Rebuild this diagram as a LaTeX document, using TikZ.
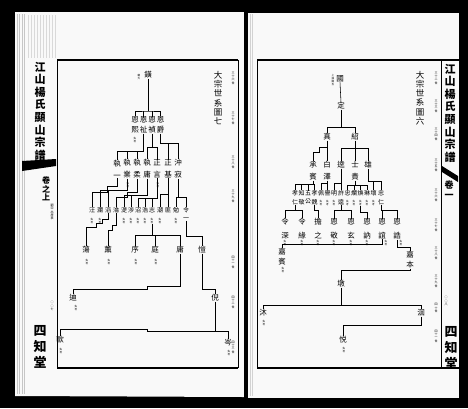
\documentclass[tikz,border=0pt]{standalone}
\usepackage{fontspec}
\setmainfont{Noto Sans CJK TC}
\begin{document}
\begin{tikzpicture}[x=1pt,y=-1pt,
  nm/.style={font=\fontsize{7.5}{10}\selectfont, inner sep=0pt, align=center},
  nmb/.style={font=\fontsize{7.5}{12}\selectfont, inner sep=0pt, align=center},
  nmc/.style={font=\fontsize{7.5}{14}\selectfont, inner sep=0pt, align=center},
  nms/.style={font=\fontsize{6}{8.5}\selectfont, inner sep=0pt, align=center},
  ann/.style={font=\fontsize{2.6}{2.9}\selectfont, inner sep=0pt, align=center},
  gen/.style={font=\fontsize{3}{3.3}\selectfont, inner sep=0pt, align=center},
  ttl/.style={font=\fontsize{8.5}{9.2}\selectfont, inner sep=0pt, align=center},
  spn/.style={font=\bfseries\fontsize{11}{12.6}\selectfont, inner sep=0pt, align=center},
  spb/.style={font=\bfseries\fontsize{13}{16}\selectfont, inner sep=0pt, align=center},
  lk/.style={draw, line width=0.55pt},
  pg/.style={fill=gray!5}]
\useasboundingbox (0,0) rectangle (468,408);
\fill[black] (0,0) rectangle (468,408);
% pages
\fill[pg] (15,12) -- (244,12) -- (244,397) -- (15,396) -- cycle;
\fill[pg] (248,13) -- (459,13) -- (459,398) -- (248,398) -- cycle;
% page edge streaks
\foreach \xx in {17,19.5,22,24.5} \draw[gray!45, line width=0.5pt] (\xx,14) -- (\xx,394);
\foreach \xx in {28,31,34,37,40,43,46,49,52,55} \draw[gray!30, line width=0.4pt] (\xx,15) -- (\xx,58);
\foreach \xx in {250,252.5} \draw[gray!35, line width=0.4pt] (\xx,14) -- (\xx,396);
% spine
\fill[black] (244,8) rectangle (248,400);
% frames left
\draw[line width=1.6pt] (57,60) -- (238,60);
\draw[line width=0.8pt] (57,60) -- (57,368);
\draw[line width=1.4pt] (57,368) -- (238,368);
\draw[line width=0.6pt] (238,60) -- (238,368);
% frames right
\draw[line width=1.6pt] (257,60) -- (459,60);
\draw[line width=0.8pt] (257,60) -- (257,368);
\draw[line width=1.4pt] (257,368) -- (459,368);
\draw[line width=0.6pt] (441,60) -- (441,368);

% ---------- margin columns ----------
\node[spn] (spL) at (40,111) {江\\山\\楊\\氏\\顯\\山\\宗\\譜};
\fill[black] (22,161) -- (56,159) -- (56,166) -- (22,171) -- cycle;
\node[font=\bfseries\fontsize{8}{8.5}\selectfont, inner sep=0pt, align=center] (volL) at (46,189) {卷\\之\\上};
\node[gen] (subL) at (52,212) {嗣\\宗\\出\\居\\表};
\node[gen] (pgL) at (52,306) {○\\○\\七};
\node[spb] (hallL) at (40,347) {四\\知\\堂};

\node[spn] (spR) at (450,113) {江\\山\\楊\\氏\\顯\\山\\宗\\譜};
\fill[black] (442,166) -- (458,176) -- (458,182) -- (442,172) -- cycle;
\node[font=\bfseries\fontsize{9}{10}\selectfont, inner sep=0pt, align=center] (volR) at (449,190) {卷\\一};
\node[gen] (pgR) at (446,301) {○\\○\\八};
\node[spb] (hallR) at (451,348) {四\\知\\堂};

% ---------- titles and generations ----------
\node[ttl] (tL) at (218,98) {大\\宗\\世\\系\\圖\\七};
\node[ttl] (tR) at (420,98) {大\\宗\\世\\系\\圖\\六};
\foreach \yy/\tt in {78/三\\十\\六\\世, 118/三\\十\\七\\世, 162/三\\十\\八\\世, 196/三\\十\\九\\世, 262/四\\十\\一\\世, 302/四\\十\\二\\世, 347/四\\十\\三\\世}
  \node[gen] at (233,\yy) {\tt};
\foreach \yy/\tt in {78/三\\十\\二\\世, 106/三\\十\\三\\世, 134/三\\十\\四\\世, 165/三\\十\\五\\世, 195/三\\十\\六\\世, 225/三\\十\\七\\世, 253/三\\十\\八\\世, 281/三\\十\\九\\世, 308/四\\十\\世, 336/四\\十\\一\\世}
  \node[gen] at (436,\yy) {\tt};

% ================= LEFT PAGE TREE =================
\node[nm] (huang) at (148,75) {鐄};
\node[ann] (ahuang) at (139,77) {繼\\大};
\node[nm] (e1) at (135,125) {恩\\熙};
\node[nm] (e2) at (143.5,125) {恩\\祉};
\node[nm] (e3) at (152,125) {恩\\禎};
\node[nm] (e4) at (160.5,125) {恩\\爵};
\node[ann] (ae1) at (135,140) {失\\考};
\coordinate (bL) at (148,111);
\draw[lk] (huang.south) -- (bL);
\draw[lk] (e1.north) |- (bL) -| (e4.north);
\draw[lk] (e2.north) -- (e2.north |- bL);
\draw[lk] (e3.north) -- (e3.north |- bL);

\node[nmb] (z1) at (117,169) {執\\一};
\node[nmb] (z2) at (127,169) {執\\業};
\node[nmb] (z3) at (137,169) {執\\柔};
\node[nmb] (z4) at (147,169) {執\\庸};
\node[nmb] (z5) at (157,169) {正\\言};
\node[nmb] (z6) at (168,169) {正\\基};
\node[nmb] (z7) at (178,169) {沖\\寂};
\node[ann] (az2) at (128,185) {失\\考};
\node[ann] (az5) at (158,185) {失\\考};
\draw[lk] (e2.south) -- ++(0,18) -| (z1.north);
\draw[lk] (e2.south) ++(0,18) -| (z2.north);
\draw[lk] (e2.south) ++(0,18) -| (z3.north);
\draw[lk] (e3.south) -- ++(0,14) -| (z4.north);
\draw[lk] (e3.south) ++(0,14) -| (z5.north);
\draw[lk] (e4.south) -- ++(0,10) -| (z6.north);
\draw[lk] (e4.south) ++(0,10) -| (z7.north);

\node[nms] (w1) at (92,210) {汪};
\node[nms] (w2) at (100,210) {瀾};
\node[nms] (w3) at (108,210) {滔};
\node[nms] (w4) at (116,210) {淪};
\node[nms] (w5) at (124,210) {湜};
\node[nms] (w6) at (131,210) {涉};
\node[nms] (w7) at (138,210) {沼};
\node[nms] (w8) at (145,210) {浩};
\node[nms] (w9) at (152,210) {志};
\node[nms] (w10) at (160,210) {潮};
\node[nms] (w11) at (168,210) {匪};
\node[nms] (w12) at (176,210) {勉};
\node[nms] (w13) at (186,214) {令\\一};
\foreach \n/\xx in {1/92,2/100,5/124,6/131,7/138,8/145,9/152,10/160,12/176}
  \node[ann] (aw\n) at (\xx,221) {失\\考};
\draw[lk] (z1.south) -- ++(0,8) -| ++(-10,6) -| (w1.north);
\draw[lk] (z2.south) -- ++(0,12) -| (w2.north);
\draw[lk] (z2.south) ++(0,12) -| (w3.north);
\draw[lk] (z3.south) -- ++(0,14) -| ++(-10,5) -| (w4.north);
\draw[lk] (z4.south) -- ++(0,17) -| (w5.north);
\draw[lk] (z4.south) ++(0,17) -| (w6.north);
\draw[lk] (z5.south) -- ++(0,20) -| (w7.north);
\draw[lk] (z5.south) ++(0,20) -| (w8.north);
\draw[lk] (z5.south) ++(0,20) -| (w9.north);
\draw[lk] (z6.south) -- ++(0,16) -| (w10.north);
\draw[lk] (z6.south) ++(0,16) -| (w11.north);
\draw[lk] (z7.south) -- ++(0,19) -| (w12.north);
\draw[lk] (z7.south) ++(0,19) -| (w13.north);

\node[nm] (v1) at (86,250) {蕩};
\node[nm] (v2) at (108,250) {薫};
\node[nm] (v3) at (135,250) {序};
\node[nm] (v4) at (155,250) {庭};
\node[nm] (v5) at (180,250) {庸};
\node[nm] (v6) at (202,250) {愷};
\foreach \n/\xx in {1/87,2/109,3/136,4/156}
  \node[ann] (av\n) at (\xx,262) {失\\考};
\draw[lk] (w3.south) -- ++(0,6) -| ++(-6,4) -| ++(-6,4) -| (v1.north);
\draw[lk] (w4.south) -- ++(0,12) -| ++(-4,5) -| (v2.north);
\draw[lk] (aw9.south) -- ++(0,11) -| (v3.north);
\draw[lk] (aw9.south) ++(0,11) -| (v4.north);
\draw[lk] (aw9.south) ++(0,11) -| (v5.north);
\draw[lk] (w13.south) -- ++(0,15) -| (v6.north);

\node[nm] (u1) at (73,298) {迪};
\node[ann] (au1) at (76,308) {失\\考};
\node[nm] (u2) at (215,298) {倪};
\draw[lk] (v5.south) -- ++(0,33) -| ++(-33,3) -| (u1.north);
\draw[lk] (v6.south) -- ++(0,36) -| (u2.north);

\node[nm] (t1) at (60,340) {歐};
\node[ann] (at1) at (61,351) {失\\考};
\node[nm] (t2) at (228,343) {岑};
\node[ann] (at2) at (229,353) {失\\考};
\draw[lk] (u2.south) -- ++(0,30) -| ++(-68,-2) -| (t1.north);
\draw[lk] (u2.south) ++(0,30) -| (t2.north);

% ================= RIGHT PAGE TREE =================
\node[nm] (guo) at (340,79) {國};
\node[ann] (aguo) at (333,80) {上\\接\\圖\\五};
\node[nm] (ding) at (341,106) {定};
\draw[lk] (guo.south) -- (ding.north);
\node[nm] (zhen) at (327,137) {真};
\node[nm] (shao) at (355,137) {紹};
\draw[lk] (ding.south) -- ++(0,18) -| (zhen.north);
\draw[lk] (ding.south) ++(0,18) -| (shao.north);

\node[nmb] (cheng) at (313,171) {承\\賓};
\node[nmb] (bai) at (327,171) {白\\澤};
\node[nm] (kui) at (341,165) {逵};
\node[nmb] (shi) at (355,171) {士\\貴};
\node[nm] (xiong) at (368,165) {雄};
\draw[lk] (zhen.south) -- (bai.north);
\draw[lk] (zhen.south) ++(0,7) -| ++(-8,5) -| (cheng.north);
\draw[lk] (shao.south) -- (shi.north);
\draw[lk] (shao.south) ++(0,8) -| (kui.north);
\draw[lk] (shao.south) ++(0,8) -| (xiong.north);

\node[nms] (r1) at (295,197.5) {孝\\仁};
\node[nms] (r2) at (301.5,197.5) {知\\敬};
\node[nms] (r3) at (308,197.5) {五\\公};
\node[nms] (r4) at (314.5,197.5) {孝\\魏};
\node[nms] (r5) at (321,193) {佩};
\node[nms] (r6) at (327.5,193) {譽};
\node[nms] (r7) at (334,193) {明};
\node[nms] (r8) at (341,197.5) {許\\逵};
\node[nms] (r9) at (347.5,193) {忠};
\node[nms] (r10) at (354,193) {爛};
\node[nms] (r11) at (360.5,193) {煥};
\node[nms] (r12) at (367,193) {琳};
\node[nms] (r13) at (373.5,193) {壞};
\node[nms] (r14) at (381,197.5) {忠\\仁};
\foreach \n/\xx in {5/321,6/327.5,7/334,9/347.5,10/354,11/360.5,12/367,13/373.5}
  \node[ann] (ar\n) at (\xx,203) {失\\考};
\draw[lk] (cheng.south) -- ++(0,4) -| (r1.north);
\draw[lk] (cheng.south) ++(0,4) -| (r2.north);
\draw[lk] (cheng.south) ++(0,4) -| (r3.north);
\draw[lk] (cheng.south) ++(0,4) -| (r4.north);
\draw[lk] (bai.south) -- ++(0,3) -| (r5.north);
\draw[lk] (bai.south) ++(0,3) -| (r6.north);
\draw[lk] (kui.south) -- ++(0,15) -| (r7.north);
\draw[lk] (kui.south) ++(0,15) -| (r8.north);
\draw[lk] (shi.south) -- ++(0,5) -| (r9.north);
\draw[lk] (shi.south) ++(0,5) -| (r10.north);
\draw[lk] (shi.south) ++(0,5) -| (r11.north);
\draw[lk] (shi.south) ++(0,5) -| (r12.north);
\draw[lk] (xiong.south) -- ++(0,13) -| (r13.north);
\draw[lk] (xiong.south) ++(0,13) -| (r14.north);

\node[nmc] (s1) at (285,229) {令\\深};
\node[nmc] (s2) at (302,229) {令\\緣};
\node[nmc] (s3) at (318,229) {擔\\之};
\node[nmc] (s4) at (334,229) {恩\\敬};
\node[nmc] (s5) at (351,229) {恩\\玄};
\node[nmc] (s6) at (367,229) {恩\\訥};
\node[nmc] (s7) at (382,229) {恩\\誼};
\node[nmc] (s8) at (397,229) {恩\\誥};
\foreach \n/\xx in {1/285,2/302,3/318,4/334,5/351,6/367,7/386,8/401}
  \node[ann] (as\n) at (\xx,243) {失\\考};
\draw[lk] (r1.south) -- ++(0,6) -| (s1.north);
\draw[lk] (r1.south) ++(0,6) -| (s2.north);
\draw[lk] (r4.south) -- ++(0,6) -| (s3.north);
\draw[lk] (r8.south) -- ++(0,6) -| (s4.north);
\draw[lk] (r8.south) ++(0,6) -| (s5.north);
\draw[lk] (ar11.south) -- ++(0,6) -| (s6.north);
\draw[lk] (r14.south) -- ++(0,6) -| (s7.north);
\draw[lk] (r14.south) ++(0,6) -| (s8.north);

\node[nm] (jb) at (282,257) {嘉\\賓};
\node[ann] (ajb) at (283,270) {失\\考};
\node[nm] (jbn) at (410,260) {嘉\\本};
\draw[lk] (s7.south) -- ++(0,5) -| (jb.north);
\draw[lk] (s8.south) -- ++(0,8) -| (jbn.north);

\node[nm] (dun) at (341,284) {墩};
\draw[lk] (jbn.south) -- ++(0,2) -| (dun.north);
\node[nm] (mu) at (263,313) {沐};
\node[ann] (amu) at (264,323) {失\\考};
\node[nm] (hui) at (421,313) {洄};
\draw[lk] (dun.south) -- ++(0,18) -| (mu.north);
\draw[lk] (dun.south) ++(0,18) -| (hui.north);
\node[nm] (yue) at (343,340) {悦};
\node[ann] (ayue) at (344,350) {失\\考};
\draw[lk] (hui.south) -- ++(0,9) -| (yue.north);
\end{tikzpicture}
\end{document}
